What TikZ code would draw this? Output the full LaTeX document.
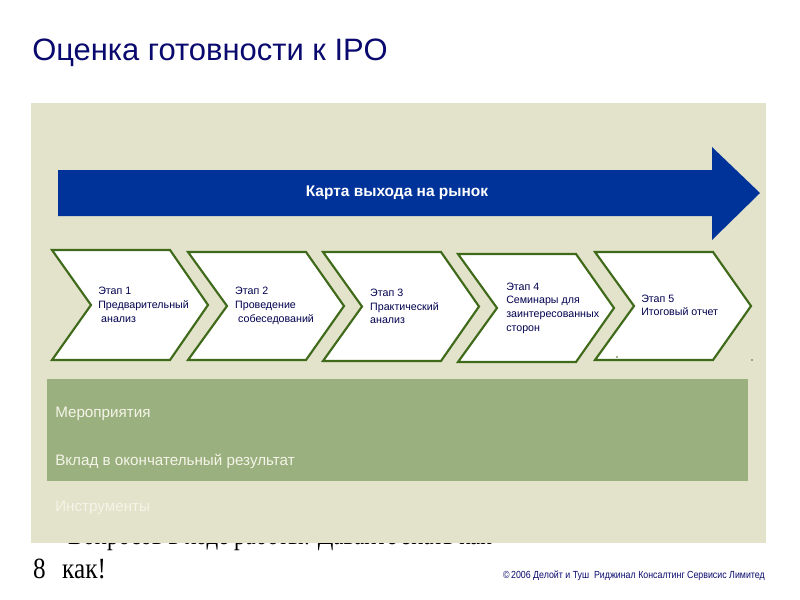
\documentclass[tikz,border=0pt]{standalone}
\usepackage{fontspec}
\setmainfont{Liberation Serif}
\setsansfont{Liberation Sans}
\definecolor{panel}{HTML}{E3E3CB}
\definecolor{navy}{HTML}{0A0A6E}
\definecolor{arrowblue}{HTML}{00339A}
\definecolor{band}{HTML}{9BB07F}
\definecolor{chevline}{HTML}{3F6A1A}
\definecolor{steptext}{HTML}{00004F}
\definecolor{faint}{HTML}{F4F4E8}
\tikzset{
  chev/.style={draw=chevline, line width=1.6pt, fill=white, line join=miter},
  steplabel/.style={anchor=west, align=left, font=\sffamily\fontsize{8}{10.3}\selectfont, text=steptext, inner sep=0pt},
  bandlabel/.style={anchor=west, font=\sffamily\fontsize{11.4}{13}\selectfont, inner sep=0pt, xscale=1},
}
\newcommand{\chevron}[4]{% left, top, bottom, name
  \pgfmathsetmacro{\mid}{(#2+#3)/2}
  \draw[chev] (#1,#2) -- (#1+118,#2) -- (#1+156,\mid) -- (#1+118,#3) -- (#1,#3) -- (#1+39,\mid) -- cycle;
  \coordinate (#4) at (#1,\mid);
}
\begin{document}
\begin{tikzpicture}[x=0.75pt,y=-0.75pt]
\useasboundingbox (0,0) rectangle (800,600);
\fill[white] (0,0) rectangle (800,600);
% hidden text line behind panel
\node[anchor=base west, inner sep=0pt, font=\fontsize{22}{26}\selectfont, xscale=0.78] (hidden) at (68,544.5) {Вопросов в ходе работы: Давайте знать как};
% title
\node[anchor=west, inner sep=0pt, font=\sffamily\fontsize{23.2}{28}\selectfont, text=navy] (title) at (32,53) {Оценка готовности к IPO};
% panel
\fill[panel] (31,103) rectangle (766,543);
% blue arrow
\fill[arrowblue] (58,170) -- (712,170) -- (712,147) -- (760,193) -- (712,240) -- (712,216) -- (58,216) -- cycle;
\node[font=\sffamily\bfseries\fontsize{11.6}{13}\selectfont, text=white, inner sep=0pt] (map) at (397,193) {Карта выхода на рынок};
% chevrons
\chevron{52}{250}{360}{c1}
\chevron{188}{252}{360}{c2}
\chevron{323}{252}{361}{c3}
\chevron{458}{254}{362}{c4}
\chevron{595}{252}{360}{c5}
\node[steplabel] (s1) at ([xshift=34.5pt]c1) {Этап 1\\Предварительный\\\ анализ};
\node[steplabel] (s2) at ([xshift=35.2pt]c2) {Этап 2\\Проведение\\\ собеседований};
\node[steplabel] (s3) at ([xshift=35.2pt]c3) {Этап 3\\Практический\\анализ};
\node[steplabel] (s4) at ([xshift=36pt]c4) {Этап 4\\Семинары для\\заинтересованных\\сторон};
\node[steplabel] (s5) at ([xshift=34.5pt,yshift=0.5pt]c5) {Этап 5\\Итоговый отчет};
\fill[chevline] (617,357) circle (0.8);
\fill[chevline] (752,360) circle (0.8);
% green band
\fill[band] (47,379) rectangle (748,481);
\node[bandlabel, text=faint] (b1) at (55,414) {Мероприятия};
\node[bandlabel, text=faint] (b2) at (55,461) {Вклад в окончательный результат};
\node[bandlabel, text=faint] (b3) at (55,508) {Инструменты};
% bottom texts
\node[anchor=base west, inner sep=0pt, font=\fontsize{22}{26}\selectfont, xscale=0.86] (num) at (33,578) {8};
\node[anchor=base west, inner sep=0pt, font=\fontsize{22}{26}\selectfont, xscale=0.86] (kak) at (62,578) {как!};
\node[anchor=east, inner sep=0pt, font=\sffamily\fontsize{7.7}{9}\selectfont, text=navy, xscale=0.86] (copy) at (765,576) {©\,2006 Делойт и Туш\ \ Риджинал Консалтинг Сервисис Лимитед};
\end{tikzpicture}
\end{document}
